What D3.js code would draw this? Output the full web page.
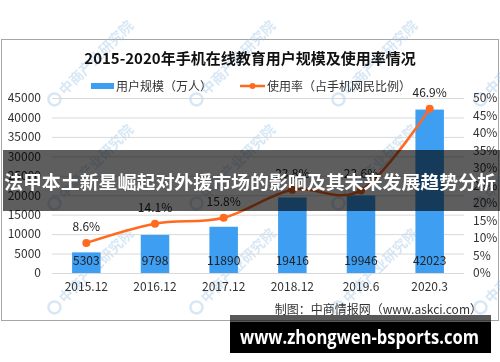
<!DOCTYPE html>
<html>
<head>
<meta charset="utf-8">
<script src="https://cdn.jsdelivr.net/npm/d3@7"></script>
<style>
  html, body { margin: 0; padding: 0; background: #fff; }
  svg { display: block; }
  .axis text { font-family: "Noto Sans CJK SC", sans-serif; font-size: 12px; fill: #333; }
  .grid line { stroke: #d9d9d9; }
</style>
</head>
<body>
<svg id="chart"></svg>
<script>
// chart data
var categories = ['2015.12', '2016.12', '2017.12', '2018.12', '2019.6', '2020.3'];
var users = [5303, 9798, 11890, 19416, 19946, 42023];
var rates = [8.6, 14.1, 15.8, 23.8, 23.6, 46.9];
var leftTicks = [0, 5000, 10000, 15000, 20000, 25000, 30000, 35000, 40000, 45000];
var rightTicks = [0, 5, 10, 15, 20, 25, 30, 35, 40, 45, 50];

var title = '2015-2020年手机在线教育用户规模及使用率情况';
var barName = '用户规模（万人）';
var lineName = '使用率（占手机网民比例）';
var source = '制图：中商情报网（www.askci.com）';
var banner = '法甲本土新星崛起对外援市场的影响及其未来发展趋势分析';
var site = 'www.zhongwen-bsports.com';

document.addEventListener('DOMContentLoaded', () => {
  var font = '"Noto Sans CJK SC", sans-serif';
  var blue = '#3d9ef2';
  var orange = '#ff6a1f';

  var svg = d3.select('#chart')
    .attr('width', 500)
    .attr('height', 362);

  var plot = { left: 52, right: 464, top: 98, bottom: 273 };

  var x = d3.scaleBand()
    .domain(categories)
    .range([plot.left, plot.right])
    .paddingInner(0.585)
    .paddingOuter(0.2925);

  var yL = d3.scaleLinear().domain([0, 45000]).range([plot.bottom, plot.top]);
  var yR = d3.scaleLinear().domain([0, 50]).range([plot.bottom, plot.top]);

  // frame
  svg.append('rect')
    .attr('x', 1.5).attr('y', 39.5)
    .attr('width', 497).attr('height', 281)
    .attr('fill', '#fff').attr('stroke', '#a6a6a6');

  // watermark
  var wm = svg.append('g').attr('opacity', 0.4);
  for (var j = 0; j < 3; j++) {
    for (var i = -1; i < 4; i++) {
      var wx = 58 + 142 * i + (j % 2) * 0;
      var wy = 103 + 104 * j;
      var g = wm.append('g').attr('transform', `translate(${ wx }, ${ wy }) rotate(-45)`);
      g.append('circle').attr('cx', 0).attr('cy', -5).attr('r', 6)
        .attr('fill', 'none').attr('stroke', '#9cc4e6').attr('stroke-width', 2.5);
      g.append('text').attr('x', 10).attr('y', 0)
        .attr('font-family', font).attr('font-size', 14).attr('font-weight', 'bold')
        .attr('fill', '#9cc4e6').text('中商产业研究院');
    }
  }

  // grid
  svg.append('g')
    .attr('class', 'grid')
    .attr('transform', `translate(${ plot.left }, 0)`)
    .call(d3.axisLeft(yL).tickValues(leftTicks).tickSize(-(plot.right - plot.left)).tickFormat(''))
    .call(g => g.select('.domain').remove());

  // title
  svg.append('text')
    .attr('x', 250).attr('y', 64)
    .attr('text-anchor', 'middle')
    .attr('font-family', font).attr('font-size', 15).attr('font-weight', 'bold')
    .attr('fill', '#111')
    .text(title);

  // legend
  svg.append('rect').attr('x', 91).attr('y', 83).attr('width', 23).attr('height', 6).attr('fill', blue);
  svg.append('text').attr('x', 116).attr('y', 90.5)
    .attr('font-family', font).attr('font-size', 12).attr('fill', '#333').text(barName);
  svg.append('line').attr('x1', 240).attr('x2', 265).attr('y1', 86).attr('y2', 86)
    .attr('stroke', orange).attr('stroke-width', 2.5);
  svg.append('circle').attr('cx', 252.5).attr('cy', 86).attr('r', 3).attr('fill', orange);
  svg.append('text').attr('x', 267).attr('y', 90.5)
    .attr('font-family', font).attr('font-size', 12).attr('fill', '#333').text(lineName);

  // axes
  svg.append('g')
    .attr('class', 'axis')
    .attr('transform', `translate(${ plot.left }, 0)`)
    .call(d3.axisLeft(yL).tickValues(leftTicks).tickSize(0).tickPadding(11).tickFormat(d3.format('d')))
    .call(g => g.select('.domain').remove());

  svg.append('g')
    .attr('class', 'axis')
    .attr('transform', `translate(${ plot.right }, 0)`)
    .call(d3.axisRight(yR).tickValues(rightTicks).tickSize(0).tickPadding(9).tickFormat(d => d + '%'))
    .call(g => g.select('.domain').remove());

  svg.append('g')
    .attr('class', 'axis')
    .attr('transform', `translate(0, ${ plot.bottom })`)
    .call(d3.axisBottom(x).tickSize(0).tickPadding(9))
    .call(g => g.select('.domain').remove());

  // bars
  svg.selectAll('.bar')
    .data(users)
    .enter().append('rect')
      .attr('class', 'bar')
      .attr('x', (d, i) => x(categories[i]))
      .attr('y', d => yL(d))
      .attr('width', x.bandwidth())
      .attr('height', d => yL(0) - yL(d))
      .attr('fill', blue);

  svg.selectAll('.bar-label')
    .data(users)
    .enter().append('text')
      .attr('class', 'bar-label')
      .attr('x', (d, i) => x(categories[i]) + x.bandwidth() / 2)
      .attr('y', plot.bottom - 8.5)
      .attr('text-anchor', 'middle')
      .attr('font-family', font).attr('font-size', 12).attr('fill', '#222')
      .text(d => d);

  // line
  var cx = i => x(categories[i]) + x.bandwidth() / 2;
  var line = d3.line()
    .x((d, i) => cx(i))
    .y(d => yR(d))
    .curve(d3.curveCardinal.tension(0));

  svg.append('path')
    .datum(rates)
    .attr('d', line)
    .attr('fill', 'none')
    .attr('stroke', orange)
    .attr('stroke-width', 2.5);

  svg.selectAll('.dot')
    .data(rates)
    .enter().append('circle')
      .attr('class', 'dot')
      .attr('cx', (d, i) => cx(i))
      .attr('cy', d => yR(d))
      .attr('r', 4)
      .attr('fill', orange);

  svg.selectAll('.rate-label')
    .data(rates)
    .enter().append('text')
      .attr('class', 'rate-label')
      .attr('x', (d, i) => cx(i))
      .attr('y', d => yR(d) - 12)
      .attr('text-anchor', 'middle')
      .attr('font-family', font).attr('font-size', 12).attr('fill', '#222')
      .text(d => d.toFixed(1) + '%');

  // source
  svg.append('text')
    .attr('x', 482).attr('y', 314)
    .attr('text-anchor', 'end')
    .attr('font-family', font).attr('font-size', 12).attr('fill', '#333')
    .text(source);

  // overlay banner
  svg.append('rect')
    .attr('x', 3).attr('y', 150).attr('width', 497).attr('height', 61)
    .attr('fill', '#000').attr('fill-opacity', 0.63);
  svg.append('text')
    .attr('x', 250).attr('y', 189)
    .attr('text-anchor', 'middle')
    .attr('font-family', font).attr('font-size', 18).attr('font-weight', 'bold')
    .attr('textLength', 492).attr('lengthAdjust', 'spacingAndGlyphs')
    .attr('fill', '#fff')
    .text(banner);

  // site banner
  svg.append('rect').attr('x', 230).attr('y', 315).attr('width', 261).attr('height', 7)
    .attr('fill', '#000').attr('fill-opacity', 0.65);
  svg.append('rect').attr('x', 230).attr('y', 322).attr('width', 261).attr('height', 31)
    .attr('fill', '#000');
  svg.append('text')
    .attr('x', 240).attr('y', 344)
    .attr('font-family', '"Open Sans", "Noto Sans", sans-serif').attr('font-size', 19).attr('font-weight', 'bold')
    .attr('textLength', 239).attr('lengthAdjust', 'spacingAndGlyphs')
    .attr('fill', '#fff')
    .text(site);
});
</script>
</body>
</html>
